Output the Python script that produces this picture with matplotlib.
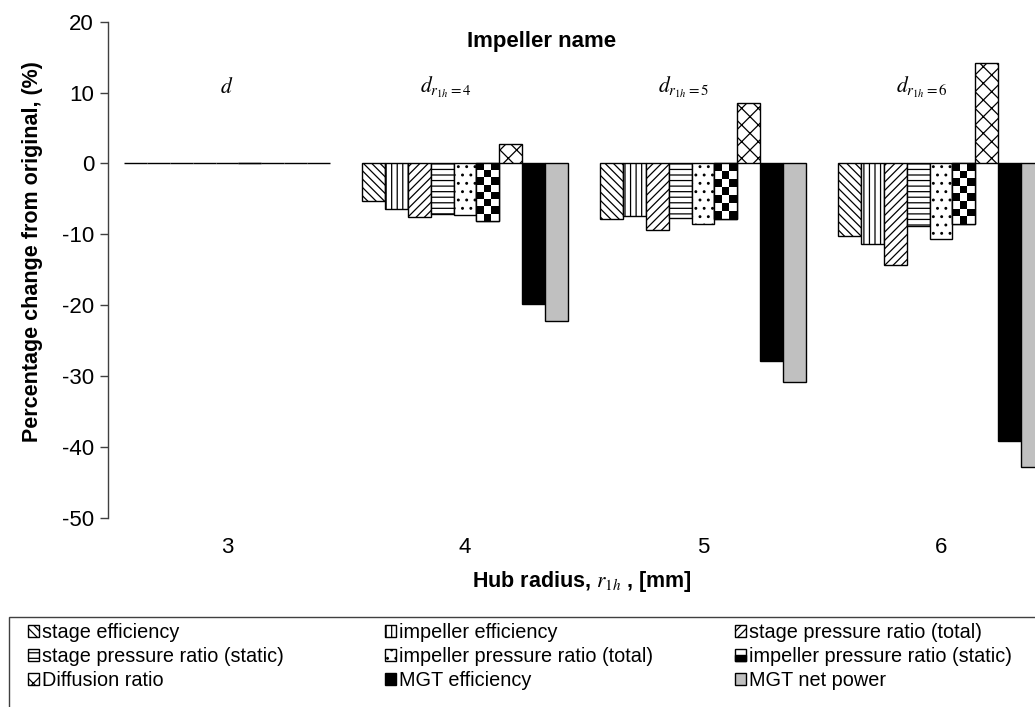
import numpy as np
import matplotlib
matplotlib.use("Agg")
import matplotlib.pyplot as plt
from matplotlib.patches import Patch, Rectangle
from matplotlib.legend_handler import HandlerBase


hub_radius = [3, 4, 5, 6]
impeller_names = [r"$d$", r"$d_{r_{1h}=4}$", r"$d_{r_{1h}=5}$", r"$d_{r_{1h}=6}$"]
y_ticks = [-50, -40, -30, -20, -10, 0, 10, 20]

stage_eff = [0, -5.3, -7.9, -10.3]
impeller_eff = [0, -6.4, -7.4, -11.4]
stage_pr_total = [0, -7.6, -9.4, -14.3]
stage_pr_static = [0, -7.2, -7.7, -8.9]
impeller_pr_total = [0, -7.3, -8.5, -10.7]
impeller_pr_static = [0, -8.1, -7.9, -8.6]
diffusion_ratio = [0, 2.8, 8.5, 14.2]
mgt_eff = [0, -19.8, -27.9, -39.2]
mgt_net_power = [0, -22.3, -30.9, -42.9]

series = [
    ("stage efficiency", stage_eff, dict(facecolor="white", hatch="\\\\\\\\")),
    ("impeller efficiency", impeller_eff, dict(facecolor="white", hatch="|||")),
    ("stage pressure ratio (total)", stage_pr_total, dict(facecolor="white", hatch="////")),
    ("stage pressure ratio (static)", stage_pr_static, dict(facecolor="white", hatch="---")),
    ("impeller pressure ratio (total)", impeller_pr_total, dict(facecolor="white", hatch="..")),
    ("impeller pressure ratio (static)", impeller_pr_static, dict(facecolor="white")),
    ("Diffusion ratio", diffusion_ratio, dict(facecolor="white", hatch="xx")),
    ("MGT efficiency", mgt_eff, dict(facecolor="black")),
    ("MGT net power", mgt_net_power, dict(facecolor="#c0c0c0")),
]
CHECKER = "impeller pressure ratio (static)"


class HandlerChecker(HandlerBase):
    def create_artists(self, legend, orig_handle, xdescent, ydescent,
                       width, height, fontsize, trans):
        box = Rectangle((-xdescent, -ydescent), width, height, facecolor="white",
                        edgecolor="black", linewidth=1, transform=trans)
        low = Rectangle((-xdescent, -ydescent), width, height * 0.55, facecolor="black",
                        edgecolor="black", linewidth=1, transform=trans)
        return [box, low]


plt.rcParams["font.family"] = ["Liberation Sans", "DejaVu Sans"]
plt.rcParams["axes.unicode_minus"] = False
plt.rcParams["mathtext.fontset"] = "stix"
plt.rcParams["hatch.color"] = "black"
plt.rcParams["hatch.linewidth"] = 0.9

W, H = 1035, 707
fig = plt.figure(figsize=(W / 100, H / 100), dpi=100)
ax = fig.add_axes([108 / W, 1 - 517.7 / H, 952 / W, 496 / H])
ax.set_xlim(2.5, 6.5)
ax.set_ylim(-50, 20)

x = np.array(hub_radius, dtype=float)
bar_w = 0.0958
n = len(series)
px_x = 952 / 4.0
px_y = 496 / 70.0

handles = []
for i, (name, vals, style) in enumerate(series):
    pos = x + (i - (n - 1) / 2) * bar_w
    bars = ax.bar(pos, vals, width=bar_w, edgecolor="black", linewidth=1.0,
                  zorder=2, **style)
    if name == CHECKER:
        # checkerboard fill, 3 cells across each bar
        cell = bar_w * px_x / 3
        for b in bars:
            h = b.get_height()
            if h == 0:
                continue
            nrows = max(1, int(round(abs(h) * px_y / cell)))
            grid = np.indices((nrows, 3)).sum(axis=0) % 2
            ax.imshow(grid, cmap="gray", interpolation="nearest", aspect="auto",
                      extent=(b.get_x(), b.get_x() + b.get_width(), h, 0),
                      origin="upper", zorder=2.5)
        ax.bar(pos, vals, width=bar_w, facecolor="none", edgecolor="black",
               linewidth=1.0, zorder=3)
        handles.append(Patch(facecolor="white", edgecolor="black", label=name))
    else:
        handles.append(Patch(edgecolor="black", linewidth=1.0, label=name, **style))

ax.set_xlim(2.5, 6.5)
ax.set_ylim(-50, 20)

for xi, label in zip(x, impeller_names):
    off = 0 if label == r"$d$" else -0.08
    ax.text(xi + off, 10.0, label, ha="center", va="baseline", fontsize=15.5)

ax.text(542 / W, 1 - 41 / H, "Impeller name", transform=fig.transFigure,
        ha="center", va="center", fontsize=16, fontweight="bold")

for s in ["top", "right", "bottom"]:
    ax.spines[s].set_visible(False)
ax.spines["left"].set_color("#404040")
ax.spines["left"].set_linewidth(1.0)

ax.set_xticks(x)
ax.set_xticklabels([str(v) for v in hub_radius])
ax.set_yticks(y_ticks)
ax.tick_params(axis="x", length=0, pad=14, labelsize=16)
ax.tick_params(axis="y", direction="out", length=6, width=1, color="#404040",
               pad=4, labelsize=16)

ax.set_ylabel("Percentage change from original, (%)", fontsize=15.5, fontweight="bold")
ax.yaxis.set_label_coords(-0.068, 0.536)
fig.text(582 / W, 1 - 582 / H, r"Hub radius, $r_{1h}$ , [mm]", ha="center", va="center",
         fontsize=15.5, fontweight="bold")

# legend: three fixed columns, filled row by row
fig.add_artist(Rectangle((9 / W, -0.1), 1.2, 1 - 617 / H + 0.1, transform=fig.transFigure,
                         facecolor="none", edgecolor="#404040", linewidth=1.0))
col_x = [28, 385, 735]
for c in range(3):
    col_handles = handles[c::3]
    fig.legend(handles=col_handles, loc="upper left",
               bbox_to_anchor=(col_x[c] / W, 1 - 623 / H),
               frameon=False, fontsize=14.3, borderpad=0, borderaxespad=0,
               handlelength=0.55, handleheight=0.55, handletextpad=0.15,
               labelspacing=0.26,
               handler_map={handles[5]: HandlerChecker()})

fig.savefig("out.png", dpi=100)
